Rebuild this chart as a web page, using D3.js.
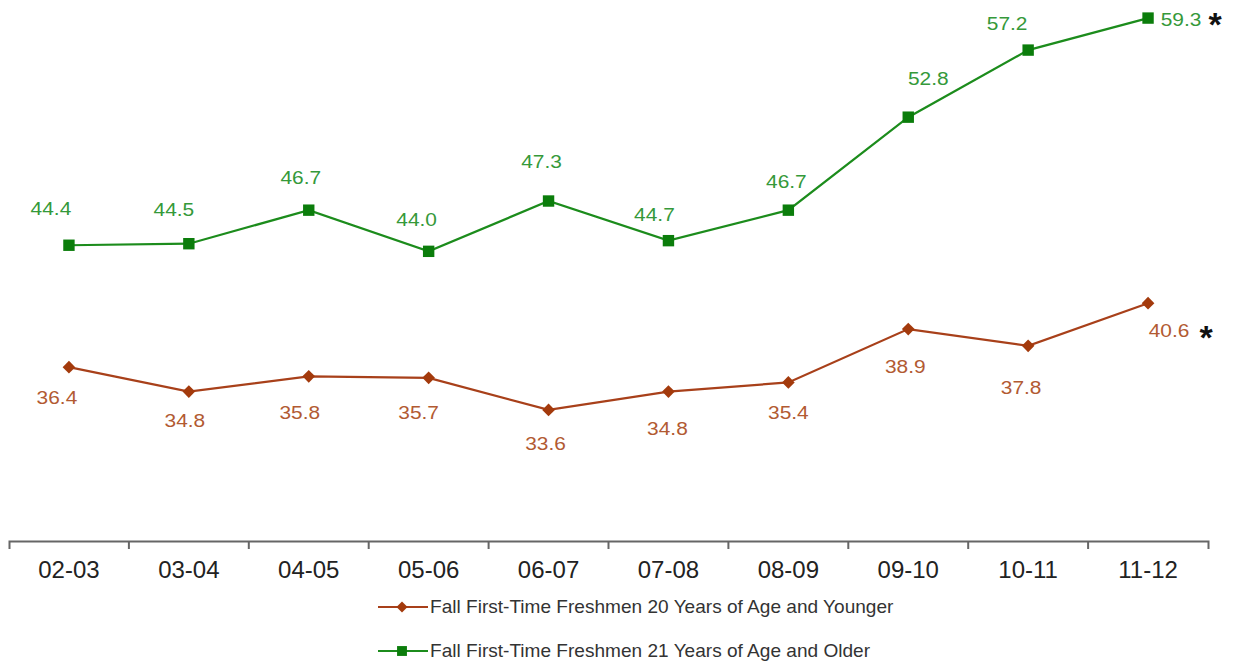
<!DOCTYPE html>
<html>
<head>
<meta charset="utf-8">
<script src="https://cdn.jsdelivr.net/npm/d3@7/dist/d3.min.js"></script>
<style>
  html, body { margin: 0; padding: 0; background: #fff; }
  svg { display: block; font-family: Arial, "Liberation Sans", sans-serif; }
</style>
</head>
<body>
<svg id="chart" width="1235" height="667"></svg>
<script>
const categories = ["02-03","03-04","04-05","05-06","06-07","07-08","08-09","09-10","10-11","11-12"];
const youngerValues = [36.4, 34.8, 35.8, 35.7, 33.6, 34.8, 35.4, 38.9, 37.8, 40.6];
const olderValues   = [44.4, 44.5, 46.7, 44.0, 47.3, 44.7, 46.7, 52.8, 57.2, 59.3];
const seriesNames = [
  "Fall First-Time Freshmen 20 Years of Age and Younger",
  "Fall First-Time Freshmen 21 Years of Age and Older"
];
const yDomain = [25, 60];

// label offsets (style): relative to marker
const olderLabelDx = [-18, -15, -8, -12, -7, -14, -2, 20, -21, 33];
const olderLabelDy = [-37, -34, -33, -32, -40, -26, -29, -39, -27, 1];
const youngerLabelDx = [-12, -4, -9, -10, -3, -1, 0, -3, -7, 21];
const youngerLabelDy = [30, 29, 36, 34, 33, 37, 30, 37, 41, 27];

const svg = d3.select("#chart");
const x = d3.scaleBand().domain(categories).range([9, 1208]).padding(0);
const y = d3.scaleLinear().domain(yDomain).range([541, 7.4]);
const cx = c => x(c) + x.bandwidth() / 2;

const series = [
  { name: seriesNames[0], values: youngerValues, line: "#a8401a", marker: "#a33a0c", text: "#b25a32",
    shape: d3.symbolSquare, rot: 45, size: 80, dx: youngerLabelDx, dy: youngerLabelDy, legendY: 607 },
  { name: seriesNames[1], values: olderValues, line: "#1c8c1c", marker: "#0b7d0b", text: "#35993a",
    shape: d3.symbolSquare, rot: 0, size: 130, dx: olderLabelDx, dy: olderLabelDy, legendY: 651 }
];

// Axis
const axis = d3.axisBottom(x).tickSize(0).tickSizeOuter(8).tickPadding(0);
const gAxis = svg.append("g").attr("transform", "translate(0,541)").call(axis);
gAxis.select(".domain").attr("stroke", "#666").attr("stroke-width", 2);
gAxis.selectAll(".tick text")
  .attr("y", 37)
  .attr("dy", 0)
  .attr("fill", "#222")
  .style("font-size", "24px")
  .style("font-family", "Arial, 'Liberation Sans', sans-serif");
// boundary ticks
svg.append("g").selectAll("line")
  .data(categories.slice(1))
  .join("line")
  .attr("x1", d => x(d)).attr("x2", d => x(d))
  .attr("y1", 541).attr("y2", 549)
  .attr("stroke", "#666").attr("stroke-width", 2);

const lineGen = d3.line().x((d, i) => cx(categories[i])).y(d => y(d));

series.forEach(s => {
  svg.append("path")
    .datum(s.values)
    .attr("d", lineGen)
    .attr("fill", "none")
    .attr("stroke", s.line)
    .attr("stroke-width", 2.2);

  svg.append("g").selectAll("path")
    .data(s.values)
    .join("path")
    .attr("transform", (d, i) => `translate(${cx(categories[i])},${y(d)}) rotate(${s.rot})`)
    .attr("d", d3.symbol().type(s.shape).size(s.size))
    .attr("fill", s.marker);

  svg.append("g").selectAll("g")
    .data(s.values)
    .join("g")
    .attr("transform", (d, i) => `translate(${cx(categories[i]) + s.dx[i]},${y(d) + s.dy[i]}) scale(1.1,1)`)
    .append("text")
    .attr("text-anchor", "middle")
    .attr("dominant-baseline", "central")
    .attr("fill", s.text)
    .style("font-size", "19px")
    .text(d => d.toFixed(1));

  // legend
  const lg = svg.append("g");
  lg.append("line").attr("x1", 378).attr("x2", 428)
    .attr("y1", s.legendY).attr("y2", s.legendY)
    .attr("stroke", s.line).attr("stroke-width", 2);
  lg.append("path")
    .attr("transform", `translate(402,${s.legendY}) rotate(${s.rot})`)
    .attr("d", d3.symbol().type(s.shape).size(s.size * 0.75))
    .attr("fill", s.marker);
  lg.append("g")
    .attr("transform", `translate(430,${s.legendY}) scale(1.06,1)`)
    .append("text")
    .attr("dominant-baseline", "central")
    .attr("fill", "#333")
    .style("font-size", "18px")
    .text(s.name);
});

// asterisks
const lastCat = categories[categories.length - 1];
[[olderValues, 67, 6], [youngerValues, 58, 34]].forEach(([vals, dx, dy]) => {
  svg.append("text")
    .attr("x", cx(lastCat) + dx)
    .attr("y", y(vals[vals.length - 1]) + dy)
    .attr("text-anchor", "middle")
    .attr("dominant-baseline", "central")
    .attr("fill", "#111")
    .style("font-size", "34px")
    .style("font-weight", "bold")
    .text("*");
});
</script>
</body>
</html>
